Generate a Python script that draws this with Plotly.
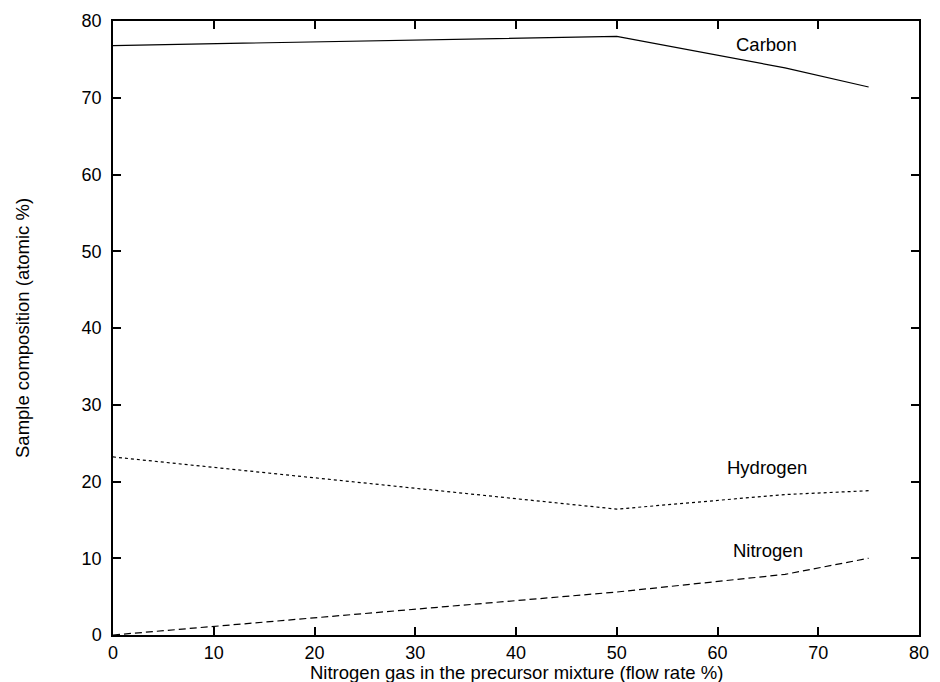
import plotly.graph_objects as go

# Data
x_flow = [0, 50, 66.7, 75]
carbon = [76.8, 78.0, 73.9, 71.4]
hydrogen = [23.2, 16.4, 18.3, 18.8]
nitrogen = [0.0, 5.6, 7.9, 10.0]

series_names = ["Carbon", "Hydrogen", "Nitrogen"]
label_x = [64.9, 64.9, 65.0]
label_y = [76.9, 21.8, 11.0]

x_ticks = [0, 10, 20, 30, 40, 50, 60, 70, 80]
y_ticks = [0, 10, 20, 30, 40, 50, 60, 70, 80]

FONT = "Liberation Sans, Arial, Helvetica, sans-serif"

fig = go.Figure()
fig.add_trace(go.Scatter(x=x_flow, y=carbon, mode="lines", name="Carbon",
                         line=dict(color="black", width=1.2, dash="solid")))
fig.add_trace(go.Scatter(x=x_flow, y=hydrogen, mode="lines", name="Hydrogen",
                         line=dict(color="black", width=1.2, dash="3px,3px")))
fig.add_trace(go.Scatter(x=x_flow, y=nitrogen, mode="lines", name="Nitrogen",
                         line=dict(color="black", width=1.2, dash="7px,4px")))

for name, lx, ly in zip(series_names, label_x, label_y):
    fig.add_annotation(x=lx, y=ly, text=name, showarrow=False,
                       font=dict(family=FONT, size=18.5, color="black"),
                       xanchor="center", yanchor="middle")

# Axis titles
fig.add_annotation(xref="paper", yref="paper", x=0.5, y=0,
                   text="Nitrogen gas in the precursor mixture (flow rate %)",
                   showarrow=False, xanchor="center", yanchor="middle", yshift=-37,
                   font=dict(family=FONT, size=18.5, color="black"))
fig.add_annotation(xref="paper", yref="paper", x=0, y=0.5,
                   text="Sample composition (atomic %)", textangle=-90,
                   showarrow=False, xanchor="center", yanchor="middle", xshift=-91,
                   font=dict(family=FONT, size=18.5, color="black"))

axis_common = dict(showgrid=False, zeroline=False, showline=True, linecolor="black",
                   linewidth=1.5, mirror="ticks", ticks="inside", ticklen=8,
                   tickwidth=1.5, tickcolor="black",
                   tickfont=dict(family=FONT, size=18, color="black"))

fig.update_layout(
    width=940, height=682, autosize=False,
    margin=dict(l=113, r=11, t=20, b=47),
    paper_bgcolor="white", plot_bgcolor="white",
    showlegend=False,
    xaxis=dict(range=[0, 80], tickvals=x_ticks, ticklabelstandoff=1, **axis_common),
    yaxis=dict(range=[0, 80], tickvals=y_ticks, ticklabelstandoff=6, **axis_common),
)

fig.write_html("out.html", config={"responsive": False})
